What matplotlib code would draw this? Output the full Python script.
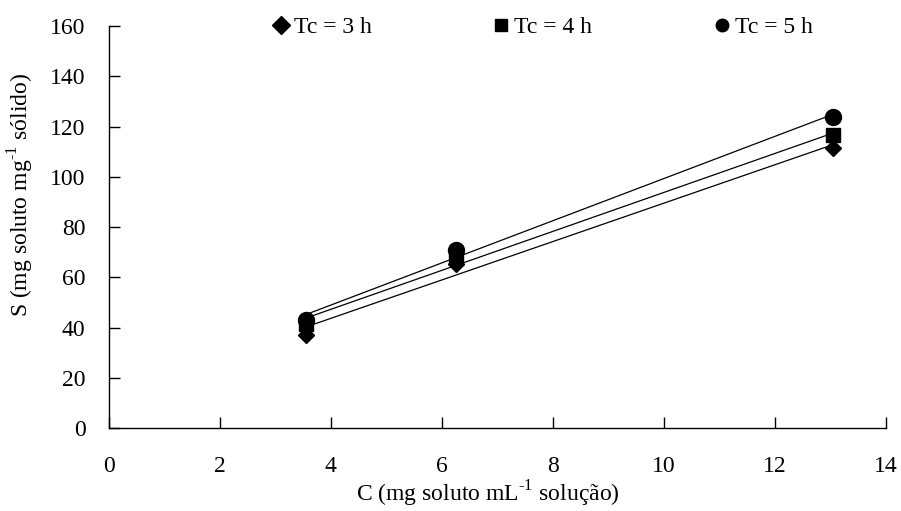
import numpy as np
import matplotlib.pyplot as plt

plt.rcParams['font.family'] = ['Liberation Serif', 'DejaVu Serif']
plt.rcParams['mathtext.fontset'] = 'custom'
plt.rcParams['mathtext.rm'] = 'Liberation Serif'

# concentração de equilíbrio (mg soluto / mL solução)
c_vals = [3.55, 6.25, 13.05]
# quantidade adsorvida para cada tempo de contato
s_tc3 = [37.0, 65.5, 111.5]
s_tc4 = [41.5, 68.0, 116.5]
s_tc5 = [43.0, 71.0, 124.0]

series = [
    ('Tc = 3 h', s_tc3, 'D', 8.5),
    ('Tc = 4 h', s_tc4, 's', 10.5),
    ('Tc = 5 h', s_tc5, 'o', 11.5),
]

FS = 17

fig = plt.figure(figsize=(9.01, 5.11), dpi=100)
ax = fig.add_axes([0.121, 0.162, 0.862, 0.787])

x = np.array(c_vals)
for label, s, mk, ms in series:
    ax.plot(x, s, linestyle='none', marker=mk, markersize=ms,
            color='black', label=label)
    # linha de tendência linear
    a, b = np.polyfit(x, s, 1)
    xf = np.array([x.min(), x.max()])
    ax.plot(xf, a * xf + b, color='black', linewidth=0.9)

ax.set_xlim(0, 14)
ax.set_ylim(0, 160)
ax.set_xticks(np.arange(0, 15, 2))
ax.set_yticks(np.arange(0, 161, 20))
for side in ('top', 'right'):
    ax.spines[side].set_visible(False)
for side in ('left', 'bottom'):
    ax.spines[side].set_linewidth(1.0)
ax.tick_params(direction='in', length=8, width=1.0, labelsize=FS)
ax.tick_params(axis='x', pad=20)
ax.tick_params(axis='y', pad=17)

ax.set_xlabel(r'C (mg soluto mL$^{\text{-1}}$ solução)', fontsize=FS)
ax.set_ylabel(r'S (mg soluto mg$^{\text{-1}}$ sólido)', fontsize=FS)
ax.xaxis.set_label_coords(0.488, -0.125)
ax.yaxis.set_label_coords(-0.094, 0.58)

leg = ax.legend(loc='center', bbox_to_anchor=(0.603, 0.947), bbox_transform=fig.transFigure,
                ncol=3, frameon=False, fontsize=FS, handlelength=0.6,
                handletextpad=0.25, columnspacing=5.2, borderaxespad=0)
for h in leg.legend_handles:
    h.set_markersize(9)

fig.savefig('out.png', dpi=100)
